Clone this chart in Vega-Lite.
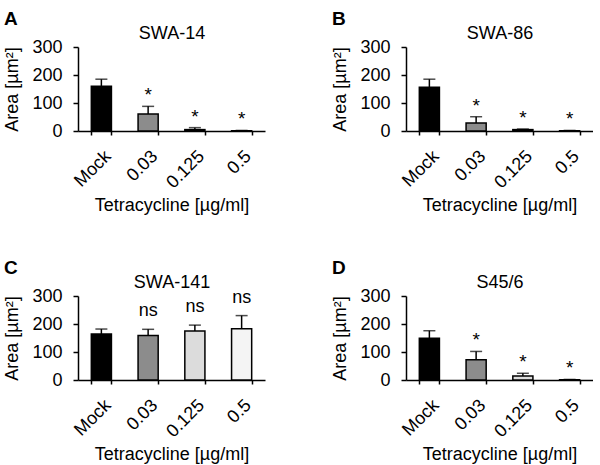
{
  "$schema": "https://vega.github.io/schema/vega-lite/v6.json",
  "padding": {"left": 3, "top": 10, "right": 0, "bottom": 0},
  "background": "white",
  "spacing": 44,
  "config": {
    "font": "Liberation Sans",
    "view": {"stroke": null},
    "axis": {
      "labelFont": "Liberation Sans", "titleFont": "Liberation Sans",
      "labelFontSize": 18, "titleFontSize": 18, "labelColor": "#000", "titleColor": "#000",
      "titleFontWeight": "normal", "domainColor": "#000", "tickColor": "#000",
      "domainWidth": 1.5, "tickWidth": 1.5, "grid": false, "labelOverlap": false, "labelFlush": false
    },
    "axisX": {"labelAngle": -45, "labelAlign": "right", "labelBaseline": "top", "tickBand": "extent", "tickSize": 4, "labelPadding": 12, "labelDx": 4, "titlePadding": 5, "labelFontSize": 18},
    "axisY": {"tickSize": 5, "labelPadding": 11, "titlePadding": 10},
    "title": {"font": "Liberation Sans", "color": "#000", "anchor": "start", "frame": "bounds", "fontSize": 19, "fontWeight": "bold", "offset": -5}
  },
  "datasets": {
    "d": [
      {"panel": "A", "dose": "Mock", "mean": 160, "err": 25, "sig": ""},
      {"panel": "A", "dose": "0.03", "mean": 61, "err": 27, "sig": "*"},
      {"panel": "A", "dose": "0.125", "mean": 5, "err": 7, "sig": "*"},
      {"panel": "A", "dose": "0.5", "mean": 1, "err": 1, "sig": "*"},
      {"panel": "B", "dose": "Mock", "mean": 156, "err": 29, "sig": ""},
      {"panel": "B", "dose": "0.03", "mean": 29, "err": 22, "sig": "*"},
      {"panel": "B", "dose": "0.125", "mean": 5, "err": 2, "sig": "*"},
      {"panel": "B", "dose": "0.5", "mean": 1, "err": 1, "sig": "*"},
      {"panel": "C", "dose": "Mock", "mean": 164, "err": 18, "sig": ""},
      {"panel": "C", "dose": "0.03", "mean": 159, "err": 22, "sig": "ns"},
      {"panel": "C", "dose": "0.125", "mean": 175, "err": 21, "sig": "ns"},
      {"panel": "C", "dose": "0.5", "mean": 183, "err": 47, "sig": "ns"},
      {"panel": "D", "dose": "Mock", "mean": 149, "err": 27, "sig": ""},
      {"panel": "D", "dose": "0.03", "mean": 72, "err": 30, "sig": "*"},
      {"panel": "D", "dose": "0.125", "mean": 14, "err": 10, "sig": "*"},
      {"panel": "D", "dose": "0.5", "mean": 1, "err": 1, "sig": "*"}
    ]
  },
  "vconcat": [
    {"spacing": 66, "hconcat": [
    {
      "title": "A",
      "width": 187, "height": 84,
      "data": {"name": "d"},
      "transform": [{"filter": "datum.panel === 'A'"}, {"calculate": "datum.mean + datum.err", "as": "top"}],
      "resolve": {"axis": {"x": "independent"}},
      "layer": [
        {"mark": {"type": "rule", "color": "#000", "strokeWidth": 1.5},
         "encoding": {
           "x": {"field": "dose", "type": "nominal", "sort": ["Mock", "0.03", "0.125", "0.5"], "scale": {"paddingInner": 0.57, "paddingOuter": 0.285}, "axis": {"title": "Tetracycline [µg/ml]"}},
           "y": {"field": "mean", "type": "quantitative", "scale": {"domain": [0, 300]}, "axis": {"title": "Area [µm²]", "values": [0, 100, 200, 300]}}, "y2": {"field": "top"}}},
        {"mark": {"type": "tick", "color": "#000", "thickness": 1.5, "size": 12},
         "encoding": {
           "x": {"field": "dose", "type": "nominal", "sort": ["Mock", "0.03", "0.125", "0.5"], "axis": null},
           "y": {"field": "top", "type": "quantitative", "scale": {"domain": [0, 300]}, "axis": {"title": "Area [µm²]", "values": [0, 100, 200, 300]}}}},
        {"mark": {"type": "bar", "stroke": "#000", "strokeWidth": 1.5},
         "encoding": {
           "x": {"field": "dose", "type": "nominal", "sort": ["Mock", "0.03", "0.125", "0.5"], "axis": null},
           "y": {"field": "mean", "type": "quantitative", "scale": {"domain": [0, 300]}, "axis": {"title": "Area [µm²]", "values": [0, 100, 200, 300]}},
           "color": {"field": "dose", "type": "nominal", "legend": null,
             "scale": {"domain": ["Mock", "0.03", "0.125", "0.5"], "range": ["#000000", "#8c8c8c", "#dcdcdc", "#f4f4f4"]}}
         }},
        {"mark": {"type": "text", "fontSize": 19, "baseline": "alphabetic", "dy": -5, "color": "#000"},
         "encoding": {
           "x": {"field": "dose", "type": "nominal", "sort": ["Mock", "0.03", "0.125", "0.5"], "axis": {"orient": "top", "title": "SWA-14", "domain": false, "ticks": false, "labels": false, "titlePadding": 5}},
           "y": {"field": "top", "type": "quantitative", "scale": {"domain": [0, 300]}, "axis": {"title": "Area [µm²]", "values": [0, 100, 200, 300]}}, "text": {"field": "sig"}}}
      ]
    },
    {
      "title": "B",
      "width": 187, "height": 84,
      "data": {"name": "d"},
      "transform": [{"filter": "datum.panel === 'B'"}, {"calculate": "datum.mean + datum.err", "as": "top"}],
      "resolve": {"axis": {"x": "independent"}},
      "layer": [
        {"mark": {"type": "rule", "color": "#000", "strokeWidth": 1.5},
         "encoding": {
           "x": {"field": "dose", "type": "nominal", "sort": ["Mock", "0.03", "0.125", "0.5"], "scale": {"paddingInner": 0.57, "paddingOuter": 0.285}, "axis": {"title": "Tetracycline [µg/ml]"}},
           "y": {"field": "mean", "type": "quantitative", "scale": {"domain": [0, 300]}, "axis": {"title": "Area [µm²]", "values": [0, 100, 200, 300]}}, "y2": {"field": "top"}}},
        {"mark": {"type": "tick", "color": "#000", "thickness": 1.5, "size": 12},
         "encoding": {
           "x": {"field": "dose", "type": "nominal", "sort": ["Mock", "0.03", "0.125", "0.5"], "axis": null},
           "y": {"field": "top", "type": "quantitative", "scale": {"domain": [0, 300]}, "axis": {"title": "Area [µm²]", "values": [0, 100, 200, 300]}}}},
        {"mark": {"type": "bar", "stroke": "#000", "strokeWidth": 1.5},
         "encoding": {
           "x": {"field": "dose", "type": "nominal", "sort": ["Mock", "0.03", "0.125", "0.5"], "axis": null},
           "y": {"field": "mean", "type": "quantitative", "scale": {"domain": [0, 300]}, "axis": {"title": "Area [µm²]", "values": [0, 100, 200, 300]}},
           "color": {"field": "dose", "type": "nominal", "legend": null,
             "scale": {"domain": ["Mock", "0.03", "0.125", "0.5"], "range": ["#000000", "#8c8c8c", "#dcdcdc", "#f4f4f4"]}}
         }},
        {"mark": {"type": "text", "fontSize": 19, "baseline": "alphabetic", "dy": -5, "color": "#000"},
         "encoding": {
           "x": {"field": "dose", "type": "nominal", "sort": ["Mock", "0.03", "0.125", "0.5"], "axis": {"orient": "top", "title": "SWA-86", "domain": false, "ticks": false, "labels": false, "titlePadding": 5}},
           "y": {"field": "top", "type": "quantitative", "scale": {"domain": [0, 300]}, "axis": {"title": "Area [µm²]", "values": [0, 100, 200, 300]}}, "text": {"field": "sig"}}}
      ]
    }]},
    {"spacing": 66, "hconcat": [
    {
      "title": "C",
      "width": 187, "height": 84,
      "data": {"name": "d"},
      "transform": [{"filter": "datum.panel === 'C'"}, {"calculate": "datum.mean + datum.err", "as": "top"}],
      "resolve": {"axis": {"x": "independent"}},
      "layer": [
        {"mark": {"type": "rule", "color": "#000", "strokeWidth": 1.5},
         "encoding": {
           "x": {"field": "dose", "type": "nominal", "sort": ["Mock", "0.03", "0.125", "0.5"], "scale": {"paddingInner": 0.57, "paddingOuter": 0.285}, "axis": {"title": "Tetracycline [µg/ml]"}},
           "y": {"field": "mean", "type": "quantitative", "scale": {"domain": [0, 300]}, "axis": {"title": "Area [µm²]", "values": [0, 100, 200, 300]}}, "y2": {"field": "top"}}},
        {"mark": {"type": "tick", "color": "#000", "thickness": 1.5, "size": 12},
         "encoding": {
           "x": {"field": "dose", "type": "nominal", "sort": ["Mock", "0.03", "0.125", "0.5"], "axis": null},
           "y": {"field": "top", "type": "quantitative", "scale": {"domain": [0, 300]}, "axis": {"title": "Area [µm²]", "values": [0, 100, 200, 300]}}}},
        {"mark": {"type": "bar", "stroke": "#000", "strokeWidth": 1.5},
         "encoding": {
           "x": {"field": "dose", "type": "nominal", "sort": ["Mock", "0.03", "0.125", "0.5"], "axis": null},
           "y": {"field": "mean", "type": "quantitative", "scale": {"domain": [0, 300]}, "axis": {"title": "Area [µm²]", "values": [0, 100, 200, 300]}},
           "color": {"field": "dose", "type": "nominal", "legend": null,
             "scale": {"domain": ["Mock", "0.03", "0.125", "0.5"], "range": ["#000000", "#8c8c8c", "#dcdcdc", "#f4f4f4"]}}
         }},
        {"mark": {"type": "text", "fontSize": 18, "baseline": "alphabetic", "dy": -13, "color": "#000"},
         "encoding": {
           "x": {"field": "dose", "type": "nominal", "sort": ["Mock", "0.03", "0.125", "0.5"], "axis": {"orient": "top", "title": "SWA-141", "domain": false, "ticks": false, "labels": false, "titlePadding": 5}},
           "y": {"field": "top", "type": "quantitative", "scale": {"domain": [0, 300]}, "axis": {"title": "Area [µm²]", "values": [0, 100, 200, 300]}}, "text": {"field": "sig"}}}
      ]
    },
    {
      "title": "D",
      "width": 187, "height": 84,
      "data": {"name": "d"},
      "transform": [{"filter": "datum.panel === 'D'"}, {"calculate": "datum.mean + datum.err", "as": "top"}],
      "resolve": {"axis": {"x": "independent"}},
      "layer": [
        {"mark": {"type": "rule", "color": "#000", "strokeWidth": 1.5},
         "encoding": {
           "x": {"field": "dose", "type": "nominal", "sort": ["Mock", "0.03", "0.125", "0.5"], "scale": {"paddingInner": 0.57, "paddingOuter": 0.285}, "axis": {"title": "Tetracycline [µg/ml]"}},
           "y": {"field": "mean", "type": "quantitative", "scale": {"domain": [0, 300]}, "axis": {"title": "Area [µm²]", "values": [0, 100, 200, 300]}}, "y2": {"field": "top"}}},
        {"mark": {"type": "tick", "color": "#000", "thickness": 1.5, "size": 12},
         "encoding": {
           "x": {"field": "dose", "type": "nominal", "sort": ["Mock", "0.03", "0.125", "0.5"], "axis": null},
           "y": {"field": "top", "type": "quantitative", "scale": {"domain": [0, 300]}, "axis": {"title": "Area [µm²]", "values": [0, 100, 200, 300]}}}},
        {"mark": {"type": "bar", "stroke": "#000", "strokeWidth": 1.5},
         "encoding": {
           "x": {"field": "dose", "type": "nominal", "sort": ["Mock", "0.03", "0.125", "0.5"], "axis": null},
           "y": {"field": "mean", "type": "quantitative", "scale": {"domain": [0, 300]}, "axis": {"title": "Area [µm²]", "values": [0, 100, 200, 300]}},
           "color": {"field": "dose", "type": "nominal", "legend": null,
             "scale": {"domain": ["Mock", "0.03", "0.125", "0.5"], "range": ["#000000", "#8c8c8c", "#dcdcdc", "#f4f4f4"]}}
         }},
        {"mark": {"type": "text", "fontSize": 19, "baseline": "alphabetic", "dy": -5, "color": "#000"},
         "encoding": {
           "x": {"field": "dose", "type": "nominal", "sort": ["Mock", "0.03", "0.125", "0.5"], "axis": {"orient": "top", "title": "S45/6", "domain": false, "ticks": false, "labels": false, "titlePadding": 5}},
           "y": {"field": "top", "type": "quantitative", "scale": {"domain": [0, 300]}, "axis": {"title": "Area [µm²]", "values": [0, 100, 200, 300]}}, "text": {"field": "sig"}}}
      ]
    }]}
  ]
}
